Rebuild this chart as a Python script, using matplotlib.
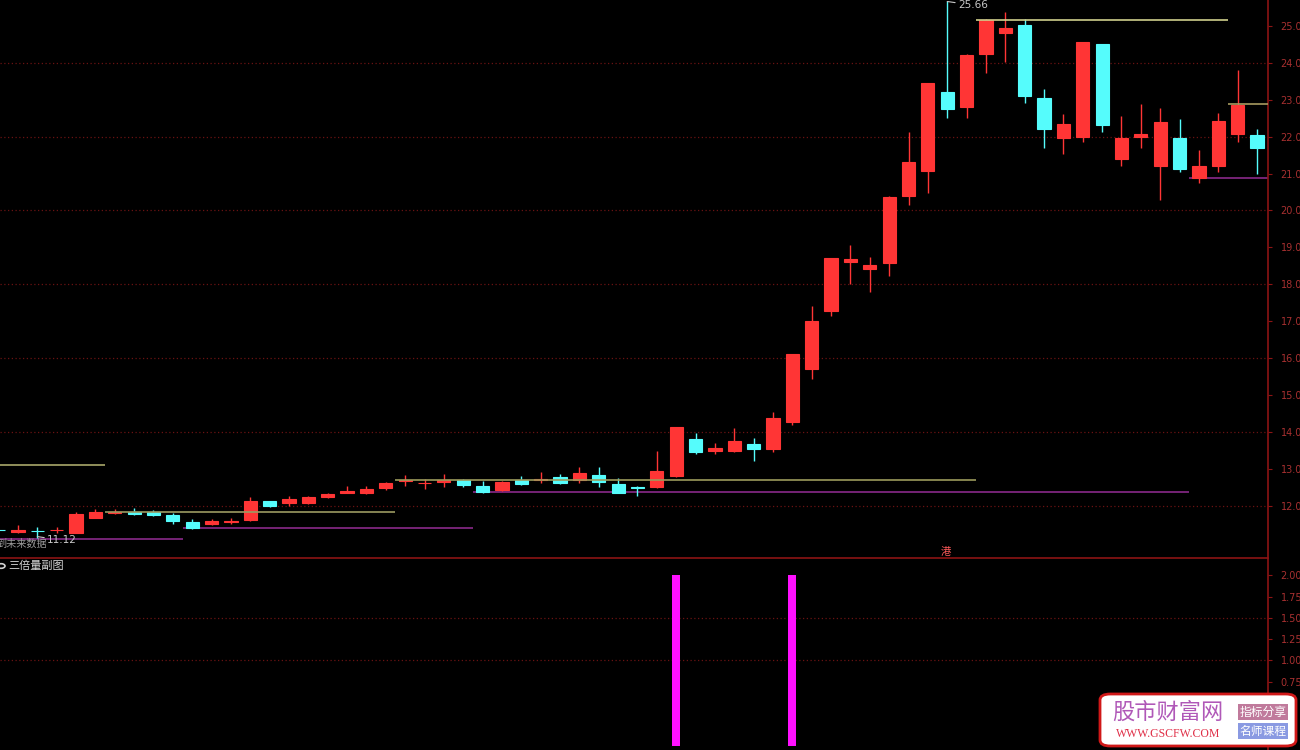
import matplotlib
matplotlib.use("Agg")
import matplotlib.pyplot as plt
from matplotlib.patches import FancyBboxPatch, Circle
import numpy as np

plt.rcParams['font.family'] = ['DejaVu Sans', 'Noto Sans CJK SC']

# ---------------- data ----------------
opens  = [11.36, 11.30, 11.33, 11.34, 11.28, 11.68, 11.82, 11.84, 11.83, 11.75,
          11.56, 11.52, 11.56, 11.62, 12.13, 12.07, 12.08, 12.25, 12.36, 12.35,
          12.49, 12.67, 12.61, 12.66, 12.70, 12.54, 12.43, 12.70, 12.70, 12.78,
          12.70, 12.84, 12.59, 12.51, 12.51, 12.81, 13.81, 13.49, 13.49, 13.68,
          13.54, 14.27, 15.71, 17.28, 18.60, 18.42, 18.58, 20.39, 21.07, 23.21,
          22.81, 24.24, 24.81, 25.03, 23.05, 21.97, 21.99, 24.51, 21.40, 21.99,
          21.21, 21.97, 20.88, 21.21, 22.07, 22.05]
highs  = [11.38, 11.48, 11.43, 11.42, 11.84, 11.92, 11.92, 11.94, 11.88, 11.80,
          11.65, 11.64, 11.66, 12.24, 12.14, 12.27, 12.26, 12.36, 12.54, 12.54,
          12.65, 12.84, 12.73, 12.86, 12.72, 12.68, 12.67, 12.81, 12.92, 12.86,
          13.05, 13.05, 12.76, 12.53, 13.49, 14.14, 13.97, 13.70, 14.11, 13.84,
          14.54, 16.12, 17.42, 18.72, 19.07, 18.74, 20.40, 22.13, 23.46, 25.66,
          24.24, 25.19, 25.38, 25.19, 23.29, 22.62, 24.57, 24.51, 22.56, 22.89,
          22.78, 22.48, 21.64, 22.64, 23.81, 22.21]
lows   = [11.33, 11.28, 11.12, 11.28, 11.27, 11.66, 11.78, 11.76, 11.72, 11.52,
          11.38, 11.48, 11.50, 11.60, 11.97, 12.00, 12.06, 12.22, 12.35, 12.32,
          12.43, 12.54, 12.46, 12.51, 12.51, 12.35, 12.41, 12.56, 12.62, 12.60,
          12.62, 12.51, 12.35, 12.27, 12.49, 12.78, 13.41, 13.41, 13.47, 13.22,
          13.46, 14.19, 15.44, 17.15, 18.01, 17.80, 18.23, 20.15, 20.48, 22.51,
          22.51, 23.73, 24.02, 22.92, 21.70, 21.53, 21.86, 22.13, 21.21, 21.70,
          20.29, 21.05, 20.75, 21.05, 21.86, 20.99]
closes = [11.34, 11.35, 11.31, 11.36, 11.78, 11.84, 11.84, 11.78, 11.75, 11.59,
          11.40, 11.60, 11.58, 12.13, 12.00, 12.18, 12.24, 12.32, 12.41, 12.46,
          12.62, 12.70, 12.63, 12.69, 12.57, 12.38, 12.65, 12.59, 12.72, 12.63,
          12.89, 12.65, 12.35, 12.48, 12.95, 14.14, 13.46, 13.57, 13.76, 13.54,
          14.38, 16.12, 17.01, 18.72, 18.69, 18.53, 20.37, 21.32, 23.46, 22.75,
          24.21, 25.16, 24.95, 23.10, 22.21, 22.35, 24.57, 22.32, 21.97, 22.07,
          22.40, 21.13, 21.21, 22.43, 22.86, 21.70]

# support / resistance segments: (start index, end index, price)
high_lines = [(-1.0, 5.5, 13.11), (5.5, 20.5, 11.84), (20.5, 50.5, 12.70),
              (50.5, 63.5, 25.16), (63.5, 66.0, 22.89)]
high_line_colors = ['#a9a86a', '#9c9a62', '#9c9a5c', '#cfcf8c', '#a89a60']
low_lines = [(-1.0, 9.5, 11.11), (9.5, 24.5, 11.40), (24.5, 61.5, 12.38),
             (61.5, 66.0, 20.88)]

price_ticks = [12, 13, 14, 15, 16, 17, 18, 19, 20, 21, 22, 23, 24, 25]
grid_levels = [12, 14, 16, 18, 20, 22, 24]

signal_idx = [35, 41]
signal_val = [2.0, 2.0]
sub_ticks = [0.75, 1.00, 1.25, 1.50, 1.75, 2.00]
sub_grid = [1.0, 1.5]

max_label = "25.66"
min_label = "11.12"

# ---------------- figure ----------------
W, H = 1300, 750
fig = plt.figure(figsize=(W / 100, H / 100), dpi=100, facecolor='black')

right_px = 1268
main_bottom_px = 558
ax = fig.add_axes([0, 1 - main_bottom_px / H, right_px / W, main_bottom_px / H])
ax2 = fig.add_axes([0, 0, right_px / W, (H - main_bottom_px - 1) / H])

step = 19.36
x_off = -1.4
xlim = ((0 - x_off) / step, (right_px - x_off) / step)

RED = '#ff3535'
CYAN = '#55fcfc'
AXIS_RED = '#8c1414'
LABEL_RED = '#a83030'
GRID_RED = '#6a1212'

for a in (ax, ax2):
    a.set_facecolor('black')
    a.set_xlim(*xlim)
    for s in ('top', 'left', 'bottom'):
        a.spines[s].set_visible(False)
    a.spines['right'].set_color(AXIS_RED)
    a.spines['right'].set_linewidth(1.2)
    a.set_xticks([])
    a.yaxis.tick_right()
    a.tick_params(axis='y', colors=AXIS_RED, labelcolor=LABEL_RED,
                  length=3, width=0.8, pad=6, labelsize=7)

ax.set_ylim(10.59, 25.70)
ax.spines['bottom'].set_visible(True)
ax.spines['bottom'].set_color(AXIS_RED)
ax.spines['bottom'].set_linewidth(1.2)

# grid
for g in grid_levels:
    ax.axhline(g, color=GRID_RED, lw=0.9, ls=(0, (1, 2)), zorder=0)

# lines
for (s, e, p), c in zip(high_lines, high_line_colors):
    ax.hlines(p, s, e, color=c, lw=1.2, zorder=3)
for (s, e, p) in low_lines:
    ax.hlines(p, s, e, color='#8a2a8a', lw=1.2, zorder=1)

# candles
x = np.arange(len(opens))
o = np.array(opens); c = np.array(closes); h = np.array(highs); l = np.array(lows)
up = c >= o
colors = np.where(up, RED, CYAN)
ax.vlines(x, l, h, colors=colors, lw=1.0, zorder=2)
ax.bar(x, np.abs(c - o), bottom=np.minimum(o, c), width=0.68, color=colors,
       edgecolor=colors, linewidth=0.8, zorder=2)

ax.set_yticks(price_ticks)
ax.set_yticklabels([f"{v:.2f}" for v in price_ticks])

# max / min labels
imax = int(np.argmax(h)); imin = int(np.argmin(l))
ax.annotate(max_label, xy=(imax, h[imax]), xytext=(imax + 0.55, h[imax] - 0.1),
            color='#c8c8c8', fontsize=7.5, va='center', ha='left',
            arrowprops=dict(arrowstyle='-', color='#c8c8c8', lw=0.8,
                            shrinkA=0, shrinkB=0))
ax.annotate(min_label, xy=(imin, l[imin] + 0.05), xytext=(imin + 0.5, l[imin] - 0.05),
            color='#c8c8c8', fontsize=7.5, va='center', ha='left',
            arrowprops=dict(arrowstyle='-', color='#c8c8c8', lw=0.8,
                            shrinkA=0, shrinkB=0))

fig.text(-4 / W, 1 - 544 / H, "到未来数据", color='#9a9a9a', fontsize=7.3,
         va='center', ha='left', family=['Noto Sans CJK SC', 'DejaVu Sans'])
fig.text(946 / W, 1 - 552 / H, "港", color='#ff5a5a', fontsize=7.5,
         va='center', ha='center', family=['Noto Sans CJK SC', 'DejaVu Sans'])

# ---------------- sub panel ----------------
ax2.set_ylim(-0.05, 2.19)
for g in sub_grid:
    ax2.axhline(g, color=GRID_RED, lw=0.9, ls=(0, (1, 2)), zorder=0)
ax2.bar(signal_idx, signal_val, width=0.42, color='#ff10ff', zorder=2)
ax2.set_yticks(sub_ticks)
ax2.set_yticklabels([f"{v:.2f}" for v in sub_ticks])

fig.patches.append(Circle((1 / W, 1 - 566 / H), 4 / W, transform=fig.transFigure,
                          facecolor='none', edgecolor='#d0d0d0', lw=1.2))
fig.text(8 / W, 1 - 566 / H, "三倍量副图", color='#d8d8d8', fontsize=8,
         va='center', ha='left', family=['Noto Sans CJK SC', 'DejaVu Sans'])

# ---------------- watermark ----------------
bx0, by0, bx1, by1 = 1100, 694, 1296, 746
fig.patches.append(FancyBboxPatch((bx0 / W, 1 - by1 / H), (bx1 - bx0) / W, (by1 - by0) / H,
                                  boxstyle="round,pad=0,rounding_size=0.008",
                                  transform=fig.transFigure, facecolor='white',
                                  edgecolor='#d01818', lw=2, zorder=10))
fig.text(1168 / W, 1 - 712 / H, "股市财富网", color='#b058b8', fontsize=16,
         va='center', ha='center', family=['Noto Sans CJK SC'], zorder=11)
fig.text(1168 / W, 1 - 734 / H, "WWW.GSCFW.COM", color='#e03048', fontsize=8.5,
         va='center', ha='center', family=['Liberation Serif'], zorder=11)
fig.text(1263 / W, 1 - 712 / H, "指标分享", color='white', fontsize=8.5,
         va='center', ha='center', family=['Noto Sans CJK SC'], zorder=11,
         bbox=dict(boxstyle='square,pad=0.12', facecolor='#c07a9c', edgecolor='none'))
fig.text(1263 / W, 1 - 731 / H, "名师课程", color='white', fontsize=8.5,
         va='center', ha='center', family=['Noto Sans CJK SC'], zorder=11,
         bbox=dict(boxstyle='square,pad=0.12', facecolor='#8a9ae2', edgecolor='none'))

fig.savefig("out.png", dpi=100, facecolor='black')
